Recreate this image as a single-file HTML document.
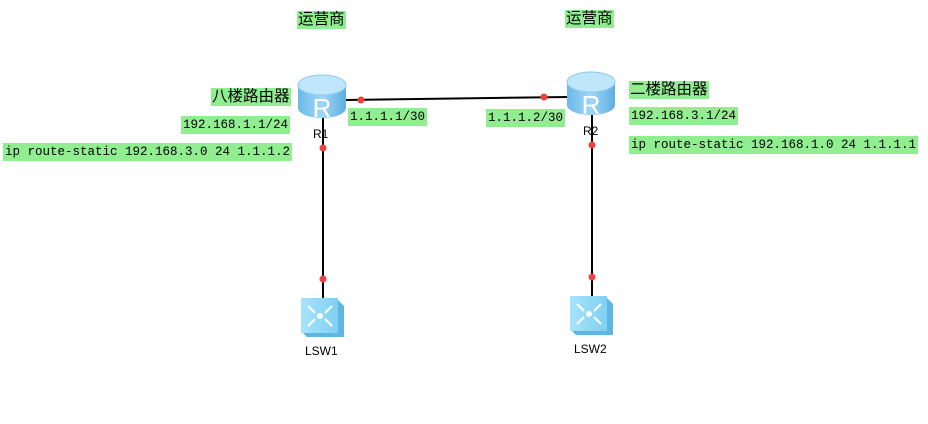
<!DOCTYPE html>
<html><head><meta charset="utf-8"><style>
html,body{margin:0;padding:0;background:#fff;width:928px;height:424px;overflow:hidden}
.l{position:absolute;background:#90ee90;color:#000;white-space:nowrap;line-height:18px;height:18px}
.m{font-family:"Liberation Mono",monospace;font-size:12.5px;padding:0 2px}
.c{font-family:"Liberation Sans","Noto Sans CJK SC",sans-serif;font-size:15.5px;padding:0 1px}
.n{position:absolute;font-family:"Liberation Sans",sans-serif;font-size:12px;color:#000}
</style></head><body>
<svg width="928" height="424" style="position:absolute;left:0;top:0">
<defs>
<linearGradient id="rs" x1="0" x2="1"><stop offset="0" stop-color="#6cb8e8"/><stop offset="0.5" stop-color="#9fd6f6"/><stop offset="1" stop-color="#5eaee0"/></linearGradient>
<linearGradient id="sw" x1="0" x2="1"><stop offset="0" stop-color="#a7e3fb"/><stop offset="1" stop-color="#7fd0f3"/></linearGradient>
</defs>
<g stroke="#000" stroke-width="2">
<line x1="345" y1="100" x2="568" y2="97"/>
<line x1="323" y1="115" x2="323" y2="298"/>
<line x1="592" y1="113" x2="592" y2="296"/>
</g>
<g id="r1">
<path d="M298 85 L298 108 A24 10 0 0 0 346 108 L346 85 Z" fill="url(#rs)"/>
<ellipse cx="322" cy="85" rx="24" ry="10" fill="#bfe6fb" stroke="#8ccbee"/>
<text x="322" y="117" text-anchor="middle" font-family="Liberation Sans" font-size="26" fill="#fff">R</text>
</g>
<g transform="translate(269,-3)">
<path d="M298 85 L298 108 A24 10 0 0 0 346 108 L346 85 Z" fill="url(#rs)"/>
<ellipse cx="322" cy="85" rx="24" ry="10" fill="#bfe6fb" stroke="#8ccbee"/>
<text x="322" y="117" text-anchor="middle" font-family="Liberation Sans" font-size="26" fill="#fff">R</text>
</g>
<g id="s1">
<path d="M301 300 L338 300 L344 306 L344 337 L307 337 L301 331 Z" fill="#5fb6e0"/>
<rect x="301" y="298" width="37" height="35" fill="url(#sw)"/>
<circle cx="320" cy="316" r="3" fill="#fff"/>
<path d="M308 306 L315 313 M332 306 L325 313 M308 326 L315 319 M332 326 L325 319" stroke="#fff" stroke-width="2"/>
</g>
<g transform="translate(269,-2)">
<path d="M301 300 L338 300 L344 306 L344 337 L307 337 L301 331 Z" fill="#5fb6e0"/>
<rect x="301" y="298" width="37" height="35" fill="url(#sw)"/>
<circle cx="320" cy="316" r="3" fill="#fff"/>
<path d="M308 306 L315 313 M332 306 L325 313 M308 326 L315 319 M332 326 L325 319" stroke="#fff" stroke-width="2"/>
</g>
<g fill="#f04040">
<circle cx="361" cy="100" r="3.5"/><circle cx="544" cy="97" r="3.5"/>
<circle cx="323" cy="148" r="3.5"/><circle cx="323" cy="279" r="3.5"/>
<circle cx="592" cy="145" r="3.5"/><circle cx="592" cy="277" r="3.5"/>
</g>
</svg>
<div class="l c" style="left:297px;top:11px">运营商</div>
<div class="l c" style="left:565px;top:10px">运营商</div>
<div class="l c" style="left:211px;top:88px">八楼路由器</div>
<div class="l m" style="left:181px;top:116px">192.168.1.1/24</div>
<div class="l m" style="left:3px;top:143px">ip route-static 192.168.3.0 24 1.1.1.2</div>
<div class="l m" style="left:348px;top:108px">1.1.1.1/30</div>
<div class="l m" style="left:486px;top:109px">1.1.1.2/30</div>
<div class="l c" style="left:629px;top:81px">二楼路由器</div>
<div class="l m" style="left:629px;top:107px">192.168.3.1/24</div>
<div class="l m" style="left:629px;top:136px">ip route-static 192.168.1.0 24 1.1.1.1</div>
<div class="n" style="left:313px;top:127px">R1</div>
<div class="n" style="left:583px;top:124px">R2</div>
<div class="n" style="left:305px;top:344px">LSW1</div>
<div class="n" style="left:574px;top:342px">LSW2</div>
</body></html>
